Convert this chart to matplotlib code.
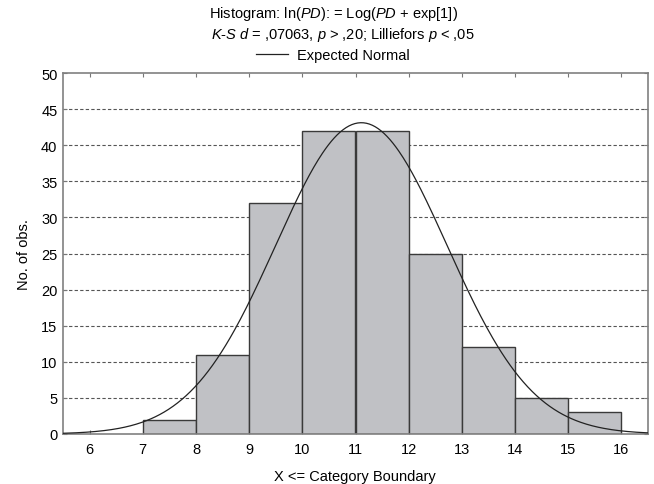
import numpy as np
import matplotlib
matplotlib.use("Agg")
import matplotlib.pyplot as plt

plt.rcParams['font.family'] = ['Liberation Sans', 'DejaVu Sans']
plt.rcParams['mathtext.fontset'] = 'custom'
plt.rcParams['mathtext.rm'] = 'Liberation Sans'
plt.rcParams['mathtext.it'] = 'Liberation Sans:italic'

# Data
bin_edges = [7, 8, 9, 10, 11, 12, 13, 14, 15, 16]
counts = [2, 11, 32, 42, 42, 25, 12, 5, 3]
x_ticks = [6, 7, 8, 9, 10, 11, 12, 13, 14, 15, 16]
y_ticks = [0, 5, 10, 15, 20, 25, 30, 35, 40, 45, 50]
fit_mean = 11.11
fit_sd = 1.61

n_total = sum(counts)
bin_width = 1.0
fs = 10.5

fig = plt.figure(figsize=(6.54, 4.85), dpi=100)
ax = fig.add_axes([63/654, 1-435/485, (648-63)/654, (435-74)/485])

ax.set_xlim(5.5, 16.5)
ax.set_ylim(0, 50)

for y in y_ticks[1:-1]:
    ax.axhline(y, color='#555555', linestyle=(0, (3, 2)), linewidth=0.8, zorder=0)

lefts = bin_edges[:-1]
ax.bar(lefts, counts, width=bin_width, align='edge', color='#c0c1c5',
       edgecolor='#3a3a3a', linewidth=1.0, zorder=2)

xs = np.linspace(5.5, 16.5, 400)
ys = n_total * bin_width / (fit_sd * np.sqrt(2 * np.pi)) * np.exp(-0.5 * ((xs - fit_mean) / fit_sd) ** 2)
line, = ax.plot(xs, ys, color='#222222', linewidth=0.9, zorder=3)

ax.set_xticks(x_ticks)
ax.set_yticks(y_ticks)
ax.tick_params(axis='both', which='both', direction='in', length=3, width=0.8,
               color='#777777', labelsize=fs, top=True, right=True, pad=6)
ax.tick_params(axis='y', pad=4)
for s in ax.spines.values():
    s.set_color('#808080')
    s.set_linewidth(1.2)

ax.set_ylabel('No. of obs.', fontsize=fs, labelpad=7)
fig.text(355/654, 1-477/485, 'X <= Category Boundary', ha='center', va='center', fontsize=fs)

fig.text(334/654, 1-14/485, r'Histogram: ln($\mathit{PD}$): = Log($\mathit{PD}$ + exp[1])',
         ha='center', va='center', fontsize=fs)
fig.text(343/654, 1-35/485, r'$\mathit{K\text{-}S\ d}$ = ,07063, $\mathit{p}$ > ,20; Lilliefors $\mathit{p}$ < ,05',
         ha='center', va='center', fontsize=fs)
leg = fig.legend([line], ['Expected Normal'], loc='center', bbox_to_anchor=(333/654, 1-56/485),
                 frameon=False, fontsize=fs, handlelength=2.2, handletextpad=0.6,
                 borderpad=0, borderaxespad=0)

fig.savefig('out.png', dpi=100)
